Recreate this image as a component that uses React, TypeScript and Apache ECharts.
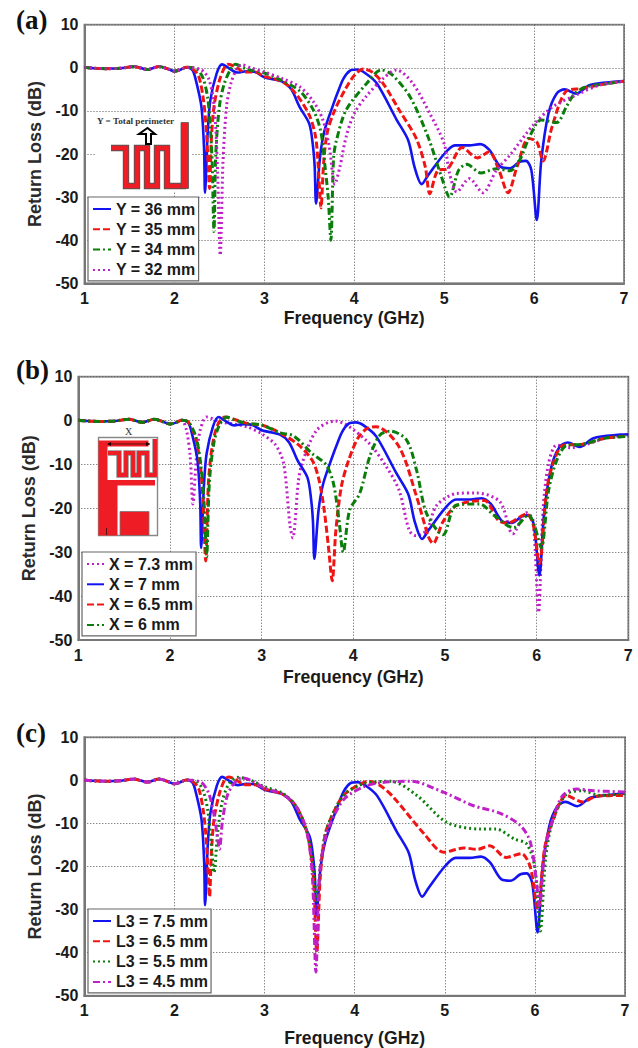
import React, { useEffect, useRef } from "react";
import * as echarts from "echarts";

type P = [number, number];

const lowBand: P[] = [[1,0.1],[1.1,-0.1],[1.25,-0.2],[1.4,-0.1],[1.55,0.3],[1.7,-0.4],[1.83,0.3],[1.92,-0.2],[2,-0.8],[2.06,-0.5],[2.13,0.1]];

const blue: P[] = [...lowBand,[2.2,-0.5],[2.24,-3],[2.3,-9],[2.33,-19],[2.34,-29],[2.37,-15],[2.4,-7.5],[2.47,-1.3],[2.53,0.8],[2.6,0],[2.7,-1.1],[2.8,-0.8],[2.9,-1],[3,-2.2],[3.2,-3.2],[3.3,-5],[3.39,-9],[3.5,-13],[3.54,-18],[3.56,-23],[3.575,-31.5],[3.62,-20.6],[3.67,-14.5],[3.77,-8.3],[3.82,-5.5],[3.88,-2.5],[3.95,-0.7],[4.03,-0.4],[4.12,-1.2],[4.25,-3.6],[4.47,-12],[4.6,-16.8],[4.67,-23],[4.75,-27],[4.82,-25],[5,-20],[5.12,-18],[5.28,-18],[5.4,-17.7],[5.5,-19],[5.63,-23],[5.73,-23.3],[5.84,-21.8],[5.91,-21.6],[5.97,-23.8],[6.03,-35.3],[6.08,-21.5],[6.16,-10.6],[6.25,-6],[6.34,-5],[6.47,-6],[6.62,-4],[6.92,-3.2],[7,-3.1]];

const aRed: P[] = [...lowBand,[2.2,-0.2],[2.27,-2],[2.32,-7],[2.35,-13],[2.37,-20],[2.39,-28],[2.41,-17],[2.44,-9],[2.5,-3],[2.56,0.2],[2.6,0.8],[2.68,0.2],[2.78,-1],[2.9,-1],[3,-2],[3.2,-3.2],[3.35,-6],[3.5,-11],[3.57,-16],[3.6,-23],[3.63,-32.5],[3.66,-22],[3.7,-15],[3.78,-10],[3.9,-5],[4,-1.8],[4.1,-0.3],[4.2,-1],[4.32,-3.6],[4.5,-9.8],[4.69,-16.4],[4.79,-23],[4.84,-29.2],[4.93,-23.8],[5.04,-23.4],[5.2,-18.5],[5.37,-20.9],[5.5,-19.5],[5.61,-23.8],[5.71,-29],[5.81,-23],[5.94,-16.4],[6.03,-17.2],[6.1,-21.6],[6.2,-13.7],[6.35,-5.6],[6.53,-4.8],[6.75,-3.9],[7,-3.1]];

const aGreen: P[] = [...lowBand,[2.25,-0.3],[2.32,-2.5],[2.37,-7],[2.4,-14],[2.42,-22],[2.44,-38],[2.46,-20],[2.5,-9],[2.55,-4],[2.62,-0.5],[2.68,0.8],[2.8,-0.3],[3,-1.2],[3.2,-3],[3.4,-5.5],[3.55,-10],[3.63,-15],[3.67,-22],[3.71,-30],[3.74,-40],[3.77,-21],[3.8,-17],[3.91,-9.8],[4.14,-3.6],[4.3,-0.5],[4.42,-1.6],[4.62,-6.7],[4.82,-16],[4.97,-25.3],[5.06,-30],[5.16,-23.8],[5.25,-22.4],[5.41,-24.4],[5.58,-23.4],[5.73,-23.9],[5.84,-21.4],[5.95,-16],[6.08,-12.1],[6.25,-12.7],[6.36,-9],[6.45,-6],[6.58,-4.4],[6.8,-3.7],[7,-3.1]];

const aMagenta: P[] = [...lowBand,[2.3,-0.5],[2.38,-2.5],[2.43,-7],[2.46,-14],[2.48,-24],[2.51,-43.5],[2.54,-22],[2.58,-9],[2.63,-3.5],[2.7,0],[2.75,0.7],[2.85,0],[3,-1],[3.2,-2.5],[3.4,-4.5],[3.55,-8],[3.65,-12],[3.72,-18],[3.785,-27],[3.84,-23],[3.91,-16],[4,-10.6],[4.13,-6.7],[4.32,-2.5],[4.47,-0.5],[4.65,-3.6],[4.84,-10.6],[5,-17.6],[5.06,-24.5],[5.14,-28.8],[5.28,-25.7],[5.43,-29],[5.58,-23.8],[5.73,-20.3],[5.99,-13.3],[6.21,-9],[6.47,-6.3],[6.73,-4],[7,-3.1]];

const bMagenta: P[] = [...lowBand,[2.18,-2.2],[2.22,-8],[2.25,-19],[2.29,-8],[2.33,-2.2],[2.4,0.8],[2.55,-0.3],[2.7,-0.8],[2.85,-1.5],[3,-3],[3.15,-5.5],[3.24,-9.8],[3.31,-24],[3.34,-26.7],[3.4,-14],[3.44,-9.8],[3.6,-2.2],[3.8,-0.1],[4.14,-4.5],[4.36,-10.5],[4.5,-15.9],[4.61,-25],[4.68,-26.2],[4.8,-25],[4.91,-19.3],[5.13,-16.6],[5.34,-16.5],[5.6,-18.5],[5.74,-25.8],[5.89,-21],[5.96,-22.7],[6.02,-43.7],[6.07,-20.4],[6.13,-9.8],[6.22,-5.6],[6.37,-6.2],[6.55,-5.4],[6.75,-4],[7,-3.3]];

const bRed: P[] = [...lowBand,[2.2,-0.3],[2.28,-4],[2.33,-10],[2.36,-18],[2.39,-32],[2.42,-14],[2.46,-6],[2.52,-1],[2.6,0.8],[2.7,0.3],[2.85,-0.7],[3,-1],[3.2,-2.8],[3.4,-5.5],[3.55,-9],[3.62,-13],[3.68,-20],[3.73,-29],[3.77,-36.5],[3.81,-25],[3.87,-15],[3.95,-9],[4.05,-4],[4.15,-1.8],[4.25,-1.4],[4.5,-6],[4.69,-17.3],[4.82,-26.5],[4.87,-28],[4.98,-23],[5.13,-19.3],[5.43,-18.2],[5.58,-22.7],[5.68,-23.4],[5.89,-21.3],[5.96,-23.5],[6.03,-32.6],[6.11,-15.9],[6.18,-9.8],[6.29,-5.6],[6.5,-5.4],[6.75,-4],[7,-3.5]];

const bGreen: P[] = [...lowBand,[2.2,-0.3],[2.28,-3.5],[2.33,-9],[2.37,-18],[2.4,-31],[2.43,-14],[2.48,-5],[2.54,-1],[2.62,0.8],[2.72,0],[2.85,-0.7],[3,-1],[3.2,-2.8],[3.35,-3.5],[3.55,-7.5],[3.7,-10],[3.78,-14],[3.84,-22],[3.89,-30],[3.96,-20.4],[4.07,-16.6],[4.18,-8.2],[4.29,-3.3],[4.4,-2.4],[4.58,-4.4],[4.69,-11.3],[4.8,-21.2],[4.98,-26],[5.12,-19.3],[5.38,-19],[5.53,-21.5],[5.75,-24.4],[5.91,-21.5],[5.98,-24.2],[6.05,-29],[6.13,-16],[6.22,-9],[6.33,-5.6],[6.5,-5.4],[6.75,-4],[7,-3.6]];

const cRed: P[] = [...lowBand,[2.2,-0.2],[2.27,-2],[2.32,-7],[2.35,-13],[2.37,-20],[2.39,-27],[2.41,-17],[2.44,-9],[2.5,-3],[2.56,0.2],[2.6,0.8],[2.68,0.2],[2.78,-1],[2.9,-1],[3,-2],[3.2,-3.2],[3.35,-6],[3.47,-12],[3.54,-22],[3.58,-40],[3.62,-22],[3.68,-12],[3.8,-6],[3.9,-3],[4.05,-1],[4.15,-0.2],[4.27,-1],[4.43,-3.9],[4.77,-12.4],[4.99,-16.7],[5.21,-15.7],[5.36,-16],[5.5,-15.2],[5.68,-17.9],[5.85,-17],[5.95,-20.2],[6.03,-30],[6.11,-15.5],[6.2,-9.3],[6.35,-3.5],[6.53,-5],[6.68,-3.7],[7,-3.5]];

const cGreen: P[] = [...lowBand,[2.25,-0.3],[2.32,-2.5],[2.37,-7],[2.41,-15],[2.44,-21.4],[2.48,-12],[2.53,-5],[2.6,-1],[2.7,0.7],[2.85,0],[3,-1.5],[3.2,-3],[3.35,-6],[3.47,-12],[3.54,-20],[3.58,-28],[3.62,-20],[3.68,-12],[3.8,-6],[3.9,-3],[4.1,-0.8],[4.4,-0.2],[4.69,-3.5],[5.02,-9.7],[5.39,-11.3],[5.57,-11.3],[5.77,-13.6],[5.91,-14.8],[6,-20.2],[6.06,-35],[6.12,-17.9],[6.2,-9.3],[6.35,-3.2],[6.53,-2.4],[6.72,-3.5],[7,-3]];

const cMagenta: P[] = [...lowBand,[2.3,-0.5],[2.38,-3],[2.43,-7],[2.47,-12],[2.5,-16],[2.53,-10],[2.58,-4],[2.65,-1],[2.75,0.6],[2.85,0],[3,-1.8],[3.2,-3.2],[3.35,-6],[3.47,-12],[3.53,-22],[3.57,-44.5],[3.61,-22],[3.68,-13],[3.8,-7],[3.9,-4],[4.1,-1.5],[4.3,-0.5],[4.62,-0.2],[4.99,-2.8],[5.32,-5.9],[5.61,-7.6],[5.84,-10.5],[5.95,-14.4],[6.02,-24],[6.05,-29.5],[6.11,-16.3],[6.2,-9],[6.31,-3.5],[6.46,-2],[6.65,-2.4],[7,-2.7]];

const xTicks = [1, 2, 3, 4, 5, 6, 7];
const xLabel = "Frequency (GHz)";
const yLabel = "Return Loss (dB)";

const BLUE = "#1414f0";
const RED = "#f01414";
const GREEN = "#0a7d0a";
const MAGENTA = "#c020c8";
const SOLID = "solid";
const DASH = [7, 3];
const DASHDOT = [7, 3, 2, 3];
const DOT = [2, 3];

type S = { name: string; data: P[]; color: string; dash: any };

const panels = [
  {
    grid: { left: 84.5, right: 14, top: 24.7, bottom: 1048 - 283.3 },
    nameGap: 40, xNameGap: 26, letter: "(a)", letterX: 16, letterY: 22,
    legend: { left: 88, top: 197, width: 18 },
    series: [
      { name: "Y = 36 mm", data: blue, color: BLUE, dash: SOLID },
      { name: "Y = 35 mm", data: aRed, color: RED, dash: DASH },
      { name: "Y = 34 mm", data: aGreen, color: GREEN, dash: DASHDOT },
      { name: "Y = 32 mm", data: aMagenta, color: MAGENTA, dash: DOT },
    ] as S[],
  },
  {
    grid: { left: 78.3, right: 9.7, top: 376.7, bottom: 1048 - 640 },
    nameGap: 40, xNameGap: 28, letter: "(b)", letterX: 16, letterY: 372,
    legend: { left: 82, top: 552, width: 17 },
    series: [
      { name: "X = 7.3 mm", data: bMagenta, color: MAGENTA, dash: DOT },
      { name: "X = 7 mm", data: blue, color: BLUE, dash: SOLID },
      { name: "X = 6.5 mm", data: bRed, color: RED, dash: DASH },
      { name: "X = 6 mm", data: bGreen, color: GREEN, dash: DASHDOT },
    ] as S[],
  },
  {
    grid: { left: 84.3, right: 13, top: 737.3, bottom: 1048 - 995.7 },
    nameGap: 40, xNameGap: 33, letter: "(c)", letterX: 16, letterY: 735,
    legend: { left: 88, top: 909, width: 18 },
    series: [
      { name: "L3 = 7.5 mm", data: blue, color: BLUE, dash: SOLID },
      { name: "L3 = 6.5 mm", data: cRed, color: RED, dash: DASH },
      { name: "L3 = 5.5 mm", data: cGreen, color: GREEN, dash: DOT },
      { name: "L3 = 4.5 mm", data: cMagenta, color: MAGENTA, dash: DASHDOT },
    ] as S[],
  },
];

const SANS = "'Liberation Sans', Arial, sans-serif";
const SERIF = "'Liberation Serif', 'Times New Roman', serif";
const INSET_RED = "#ee1c25";

const poly = (pts: number[][], style: any) => ({ type: "polyline", z: 1, shape: { points: pts }, style: { fill: "none", lineJoin: "miter", ...style } });

const insetA = [
  { type: "rect", z: 1, shape: { x: 96, y: 113, width: 96, height: 79 }, style: { fill: "#fff" } },
  poly([[111, 148], [126, 148], [126, 186], [137, 186], [137, 148], [147, 148], [147, 186], [157, 186], [157, 148], [167, 148], [167, 186], [186, 186]], { stroke: "#555", lineWidth: 6.4 }),
  poly([[111, 148], [126, 148], [126, 186], [137, 186], [137, 148], [147, 148], [147, 186], [157, 186], [157, 148], [167, 148], [167, 186], [186, 186]], { stroke: INSET_RED, lineWidth: 4.6 }),
  { type: "rect", z: 1, shape: { x: 181, y: 122.5, width: 7.5, height: 66 }, style: { fill: INSET_RED, stroke: "#555", lineWidth: 0.8 } },
  { type: "polygon", z: 1, shape: { points: [[146, 144], [146, 134], [139, 134], [147.5, 128], [155, 134], [151, 134], [151, 144]] }, style: { fill: "#fff", stroke: "#000", lineWidth: 2 } },
  { type: "text", z: 1, style: { x: 97, y: 121, text: "Y = Total perimeter", font: `bold 9.2px ${SERIF}`, fill: "#333", textVerticalAlign: "middle" } },
];

const insetB = [
  { type: "rect", z: 1, shape: { x: 98.5, y: 437.5, width: 59, height: 98 }, style: { fill: "#fff", stroke: "#888", lineWidth: 1.4 } },
  { type: "polygon", z: 1, shape: { points: [[98.5, 440.5], [148.5, 440.5], [148.5, 446.5], [107.5, 446.5], [107.5, 480], [155, 480], [155, 485.5], [117.5, 485.5], [117.5, 535.5], [98.5, 535.5]] }, style: { fill: INSET_RED } },
  { type: "rect", z: 1, shape: { x: 120, y: 511.5, width: 29, height: 24 }, style: { fill: INSET_RED, stroke: "#777", lineWidth: 0.8 } },
  poly([[108, 453], [119, 453], [119, 475], [126, 475], [126, 453], [133, 453], [133, 475], [139, 475], [139, 453], [147, 453], [147, 475], [155, 475], [155, 439]], { stroke: "#888", lineWidth: 5.4 }),
  poly([[108, 453], [119, 453], [119, 475], [126, 475], [126, 453], [133, 453], [133, 475], [139, 475], [139, 453], [147, 453], [147, 475], [155, 475], [155, 439]], { stroke: INSET_RED, lineWidth: 3.8 }),
  { type: "line", z: 1, shape: { x1: 108, y1: 444, x2: 150, y2: 444 }, style: { stroke: "#511", lineWidth: 1 } },
  { type: "polygon", z: 1, shape: { points: [[107, 444], [111, 442], [111, 446]] }, style: { fill: "#200" } },
  { type: "polygon", z: 1, shape: { points: [[150, 444], [146, 442], [146, 446]] }, style: { fill: "#200" } },
  { type: "line", z: 1, shape: { x1: 106.5, y1: 528, x2: 106.5, y2: 535 }, style: { stroke: "#511", lineWidth: 1 } },
  { type: "text", z: 1, style: { x: 128.5, y: 431.5, text: "X", font: `10px ${SERIF}`, fill: "#333", textAlign: "center", textVerticalAlign: "middle" } },
];

export default function App() {
  const ref = useRef<HTMLDivElement>(null);
  useEffect(() => {
    document.body.style.margin = "0";
    const chart = echarts.init(ref.current!, undefined, { renderer: "svg" });
    const axisFont = { fontFamily: SANS, fontWeight: "bold" as const, fontSize: 16, color: "#1a1a1a" };
    chart.setOption({
      animation: false,
      backgroundColor: "#fff",
      grid: panels.map((p) => ({ ...p.grid, show: true, borderColor: "#8e8e8e", borderWidth: 2, backgroundColor: "transparent" })),
      xAxis: panels.map((p, i) => ({
        type: "value", gridIndex: i, min: xTicks[0], max: xTicks[xTicks.length - 1], interval: 1,
        name: xLabel, nameLocation: "middle", nameGap: p.xNameGap,
        nameTextStyle: { fontFamily: SANS, fontWeight: "bold", fontSize: 17.6, color: "#1a1a1a" },
        axisLabel: { ...axisFont, margin: 7 },
        axisLine: { onZero: false, lineStyle: { color: "#777", width: 2 } },
        axisTick: { show: false },
        splitLine: { show: true, lineStyle: { color: "#555", width: 1, type: [1, 2] } },
      })),
      yAxis: panels.map((p, i) => ({
        type: "value", gridIndex: i, min: -50, max: 10, interval: 10,
        name: yLabel, nameLocation: "middle", nameGap: p.nameGap,
        nameTextStyle: { fontFamily: SANS, fontWeight: "bold", fontSize: 18, color: "#2a2a2a" },
        axisLabel: { ...axisFont, margin: 6 },
        axisLine: { onZero: false, lineStyle: { color: "#777", width: 2 } },
        axisTick: { show: false },
        splitLine: { show: true, lineStyle: { color: "#555", width: 1, type: [1, 2] } },
      })),
      legend: panels.map((p) => ({
        left: p.legend.left, top: p.legend.top, orient: "vertical",
        data: p.series.map((s) => s.name),
        itemWidth: p.legend.width, itemHeight: 14, itemGap: 4.3,
        padding: [4, 3, 3, 4], selectedMode: false,
        backgroundColor: "#fff", borderColor: "#666", borderWidth: 1.2,
        itemStyle: { opacity: 0 },
        textStyle: { fontFamily: SANS, fontWeight: "bold", fontSize: 16, color: "#1a1a1a" },
        z: 5,
      })),
      series: panels.flatMap((p, i) =>
        p.series.map((s) => ({
          type: "line", name: s.name, xAxisIndex: i, yAxisIndex: i, data: s.data,
          showSymbol: false, symbol: "none", smooth: 0.3, clip: true,
          lineStyle: { color: s.color, width: s.dash === SOLID ? 2.6 : 3, type: s.dash },
          itemStyle: { color: s.color },
        }))
      ),
      graphic: [
        ...panels.map((p) => ({
          type: "text", left: p.letterX, top: p.letterY - 16,
          style: { text: p.letter, font: `bold 27px ${SERIF}`, fill: "#111" },
        })),
        ...insetA,
        ...insetB,
      ],
    });
    return () => chart.dispose();
  }, []);
  return <div ref={ref} style={{ width: 638, height: 1048 }} />;
}
